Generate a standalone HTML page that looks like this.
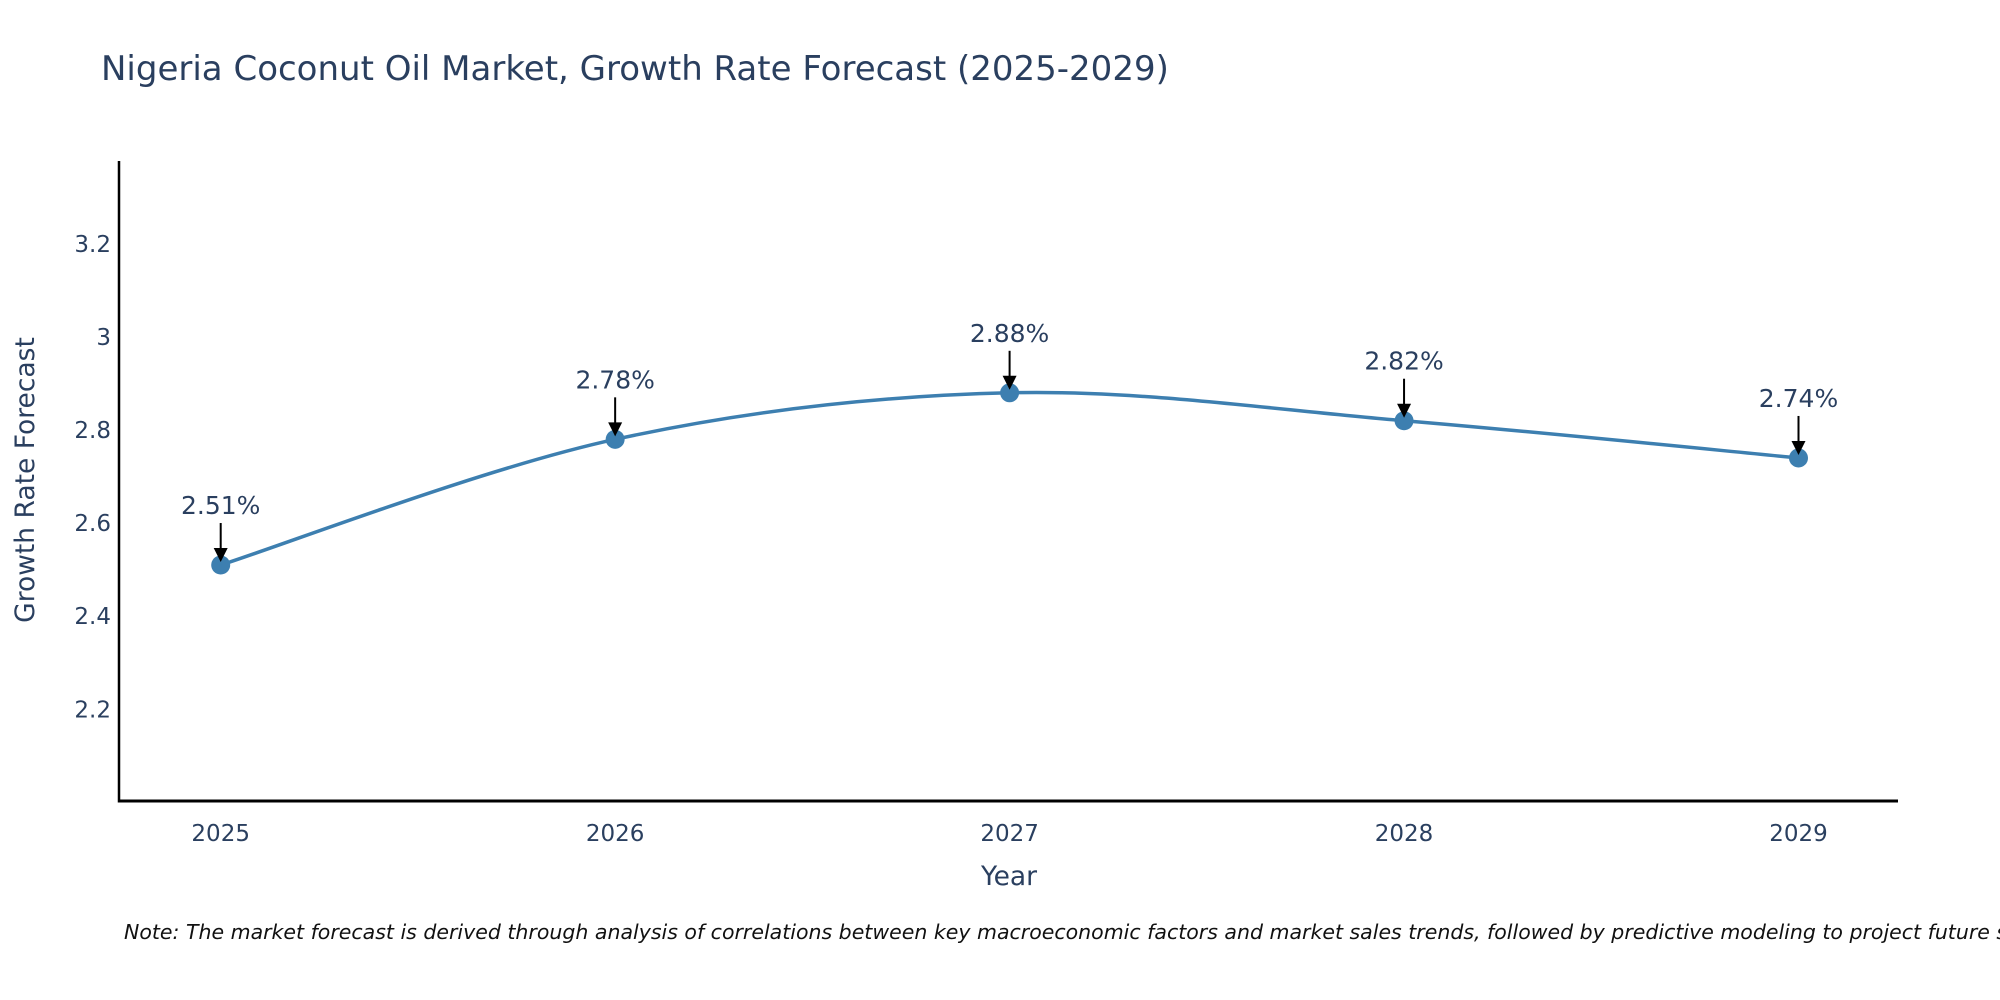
<!DOCTYPE html>
<html>
<head>
<meta charset="utf-8">
<style>
html,body{margin:0;padding:0;background:#fff;}
svg{display:block;font-family:"DejaVu Sans","Liberation Sans",sans-serif;}
</style>
</head>
<body>
<svg id="chart" width="2000" height="1000" viewBox="0 0 2000 1000" xmlns="http://www.w3.org/2000/svg">
  <text x="101" y="80" font-size="34" fill="#2a3f5f">Nigeria Coconut Oil Market, Growth Rate Forecast (2025-2029)</text>
  <g id="plot"></g>
  <text x="1009" y="885" font-size="26.5" fill="#2a3f5f" text-anchor="middle">Year</text>
  <text transform="translate(34,480) rotate(-90)" font-size="26.5" fill="#2a3f5f" text-anchor="middle">Growth Rate Forecast</text>
  <text x="124" y="939" font-size="20.5" font-style="italic" fill="#111">Note: The market forecast is derived through analysis of correlations between key macroeconomic factors and market sales trends, followed by predictive modeling to project future sales.</text>
</svg>
<script>
const years = [2025, 2026, 2027, 2028, 2029];
const growthRates = [2.51, 2.78, 2.88, 2.82, 2.74];
const valueLabels = ["2.51%", "2.78%", "2.88%", "2.82%", "2.74%"];
const yTicks = [2.2, 2.4, 2.6, 2.8, 3.0, 3.2];
const yTickLabels = ["2.2", "2.4", "2.6", "2.8", "3", "3.2"];

const NS = "http://www.w3.org/2000/svg";
const plot = document.getElementById("plot");
const L = 119, R = 1898, T = 161, B = 801;
const yMin = 2.003, yMax = 3.378;
function xScale(yr){ return 220.7 + (yr - 2025) * 394.45; }
function yScale(v){ return B - (v - yMin) / (yMax - yMin) * (B - T); }
function mk(tag, attrs){ const e = document.createElementNS(NS, tag); for (const k in attrs) e.setAttribute(k, attrs[k]); plot.appendChild(e); return e; }

let ax = mk("line", {x1:L, y1:B, x2:R, y2:B, stroke:"#000", "stroke-width":3});


let ay = mk("line", {x1:L, y1:T, x2:L, y2:B+1.5, stroke:"#000", "stroke-width":2.5});



yTicks.forEach((v, i) => {
  const t = mk("text", {x:L - 8, y:yScale(v) + 8, "font-size":23, fill:"#2a3f5f", "text-anchor":"end"});
  t.textContent = yTickLabels[i];
  
  
});
years.forEach(yr => {
  const t = mk("text", {x:xScale(yr), y:B + 40, "font-size":23, fill:"#2a3f5f", "text-anchor":"middle"});
  t.textContent = String(yr);
  
  
});

const pts = years.map((yr, i) => [xScale(yr), yScale(growthRates[i])]);
let d = "M" + pts[0][0] + "," + pts[0][1];
const tk = 0.5;
for (let i = 0; i < pts.length - 1; i++) {
  const p0 = pts[Math.max(i-1,0)], p1 = pts[i], p2 = pts[i+1], p3 = pts[Math.min(i+2, pts.length-1)];
  const c1x = p1[0] + (p2[0]-p0[0]) * tk / 3, c1y = p1[1] + (p2[1]-p0[1]) * tk / 3;
  const c2x = p2[0] - (p3[0]-p1[0]) * tk / 3, c2y = p2[1] - (p3[1]-p1[1]) * tk / 3;
  d += " C" + c1x + "," + c1y + " " + c2x + "," + c2y + " " + p2[0] + "," + p2[1];
}
const line = mk("path", {d:d, fill:"none", stroke:"#3d7fb0", "stroke-width":3.5});



pts.forEach((p, i) => {
  const c = mk("circle", {cx:p[0], cy:p[1], r:9.5, fill:"#3d7fb0"});
  
  
  const a = mk("line", {x1:p[0], y1:p[1]-42, x2:p[0], y2:p[1]-16, stroke:"#000", "stroke-width":2});
  
  
  const h = mk("polygon", {points:(p[0]-7)+","+(p[1]-17)+" "+(p[0]+7)+","+(p[1]-17)+" "+p[0]+","+(p[1]-3), fill:"#000"});
  
  
  const t = mk("text", {x:p[0], y:p[1]-51, "font-size":25, fill:"#2a3f5f", "text-anchor":"middle"});
  t.textContent = valueLabels[i];
  
  
});
</script>
</body>
</html>
